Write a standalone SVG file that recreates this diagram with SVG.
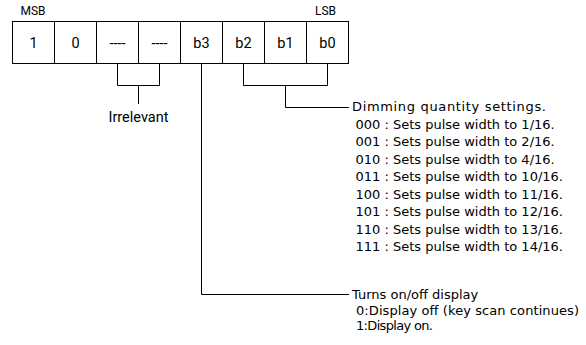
<svg xmlns="http://www.w3.org/2000/svg" width="586" height="345" viewBox="0 0 586 345">
<style>
.cell{fill:#fff;stroke:#000;stroke-width:1}
.bl{font-family:Roboto,"Liberation Sans",sans-serif;font-size:14.5px;fill:#000;text-anchor:middle}
.hd{font-family:Roboto,"Liberation Sans",sans-serif;font-size:12px;fill:#000}
.ds{font-family:"DejaVu Sans",Verdana,sans-serif;font-size:13px;fill:#000}
.ln{fill:none;stroke:#000;stroke-width:1}
</style>
<rect width="586" height="345" fill="#fff"/>
<g id="msb"><text class="hd" x="20.5" y="15">MSB</text></g>
<g id="lsb"><text class="hd" x="315" y="15">LSB</text></g>
<g id="register">
<rect class="cell" x="12.5" y="21.5" width="42" height="42"/>
<rect class="cell" x="54.5" y="21.5" width="42" height="42"/>
<rect class="cell" x="96.5" y="21.5" width="42" height="42"/>
<rect class="cell" x="138.5" y="21.5" width="42" height="42"/>
<rect class="cell" x="180.5" y="21.5" width="42" height="42"/>
<rect class="cell" x="222.5" y="21.5" width="42" height="42"/>
<rect class="cell" x="264.5" y="21.5" width="42" height="42"/>
<rect class="cell" x="306.5" y="21.5" width="42" height="42"/>
<text class="bl" x="33.5" y="47.5">1</text>
<text class="bl" x="75.5" y="47.5">0</text>
<text class="bl" x="117.5" y="47.5">----</text>
<text class="bl" x="159.5" y="47.5">----</text>
<text class="bl" x="201.5" y="47.5">b3</text>
<text class="bl" x="243.5" y="47.5">b2</text>
<text class="bl" x="285.5" y="47.5">b1</text>
<text class="bl" x="327.5" y="47.5">b0</text>
</g>
<g id="connectors">
<path class="ln" d="M117.5 63.5V85.5H159.5V63.5M138.5 85.5V104"/>
<path class="ln" d="M201.5 63.5V294.5H349"/>
<path class="ln" d="M243.5 63.5V85.5H327.5V63.5M285.5 85.5V107.5H349"/>
</g>
<g id="irrelevant"><text class="bl" x="138.5" y="122">Irrelevant</text></g>
<g id="dimming">
<text class="ds" x="352" y="111" textLength="194">Dimming quantity settings.</text>
<text class="ds" x="355.5" y="128.5">000 : Sets pulse width to 1/16.</text>
<text class="ds" x="355.5" y="146">001 : Sets pulse width to 2/16.</text>
<text class="ds" x="355.5" y="163.5">010 : Sets pulse width to 4/16.</text>
<text class="ds" x="355.5" y="181">011 : Sets pulse width to 10/16.</text>
<text class="ds" x="355.5" y="198.5">100 : Sets pulse width to 11/16.</text>
<text class="ds" x="355.5" y="216">101 : Sets pulse width to 12/16.</text>
<text class="ds" x="355.5" y="233.5">110 : Sets pulse width to 13/16.</text>
<text class="ds" x="355.5" y="251">111 : Sets pulse width to 14/16.</text>
</g>
<g id="display">
<text class="ds" x="352" y="299">Turns on/off display</text>
<text class="ds" x="356" y="314.5" textLength="223">0:Display off (key scan continues)</text>
<text class="ds" x="356" y="330" textLength="77">1:Display on.</text>
</g>
</svg>
